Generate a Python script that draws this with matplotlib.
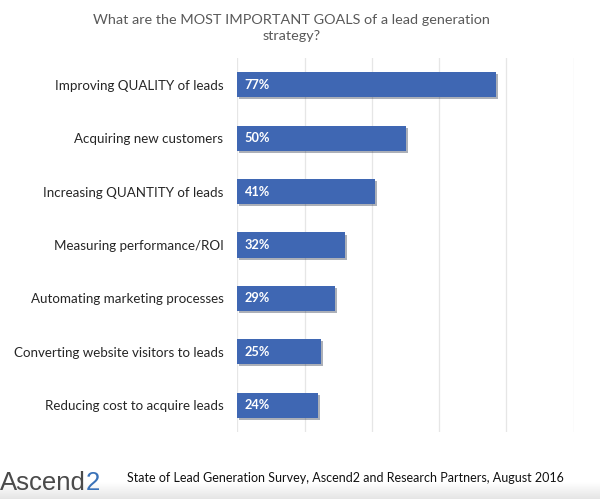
import numpy as np
import matplotlib
matplotlib.use("Agg")
import matplotlib.pyplot as plt
import matplotlib.patheffects as pe

goals = [
    "Improving QUALITY of leads",
    "Acquiring new customers",
    "Increasing QUANTITY of leads",
    "Measuring performance/ROI",
    "Automating marketing processes",
    "Converting website visitors to leads",
    "Reducing cost to acquire leads",
]
shares = [77, 50, 41, 32, 29, 25, 24]

TITLE = "What are the MOST IMPORTANT GOALS of a lead generation\nstrategy?"
SOURCE = "State of Lead Generation Survey, Ascend2 and Research Partners, August 2016"

BLUE = "#3f67b3"
FONT = ["Lato", "DejaVu Sans"]
LOGO_FONT = ["Liberation Sans", "DejaVu Sans"]

fig = plt.figure(figsize=(6, 4.99), dpi=100)
ax = fig.add_axes([0.3955, 0.1343, 0.5607, 0.7495])

y = np.arange(len(goals))
bars = ax.barh(y, shares, height=0.47, color=BLUE, zorder=3)
for b in bars:
    b.set_path_effects([pe.SimplePatchShadow(offset=(1.5, -1.5), alpha=0.35),
                        pe.Normal()])

for yi, v in zip(y, shares):
    ax.text(2.2, yi, f"{v}%", color="white", fontsize=9.2, fontweight="bold",
            va="center", ha="left", family=FONT, zorder=4)

ax.set_xlim(0, 100)
ax.set_ylim(len(goals) - 0.5, -0.5)
ax.set_xticks(np.arange(0, 101, 20))
ax.xaxis.grid(True, color="#e6e6e6", lw=0.9, zorder=0)
ax.tick_params(axis="x", length=0, labelbottom=False)
ax.tick_params(axis="y", length=0, pad=10)
ax.set_yticks(y)
ax.set_yticklabels(goals, family=FONT, fontsize=9.6, color="#262626")
for s in ax.spines.values():
    s.set_visible(False)

fig.text(0.486, 0.944, TITLE, ha="center", va="center", fontsize=10.4,
         color="#595959", family=FONT, linespacing=1.45)

# very light grey fade at the foot of the image
band = fig.add_axes([0, 0, 1, 0.034])
shade = np.linspace(1.0, 0.9, 20)
band.imshow(np.dstack([shade, shade, shade]).reshape(-1, 1, 3),
            aspect="auto", extent=(0, 1, 0, 1))
band.axis("off")

logo = fig.text(0.0, 0.019, "Ascend", fontsize=18.5, color="#4a4a4a",
                va="baseline", ha="left", family=LOGO_FONT)
fig.canvas.draw()
x_end = logo.get_window_extent().x1 / fig.bbox.width
fig.text(x_end, 0.019, "2", fontsize=18.5, color="#3a72b8", va="baseline",
         ha="left", family=LOGO_FONT)
fig.text(0.212, 0.034, SOURCE, fontsize=9.0, color="#111111", va="baseline",
         ha="left", family=FONT)

fig.savefig("out.png", dpi=100)
